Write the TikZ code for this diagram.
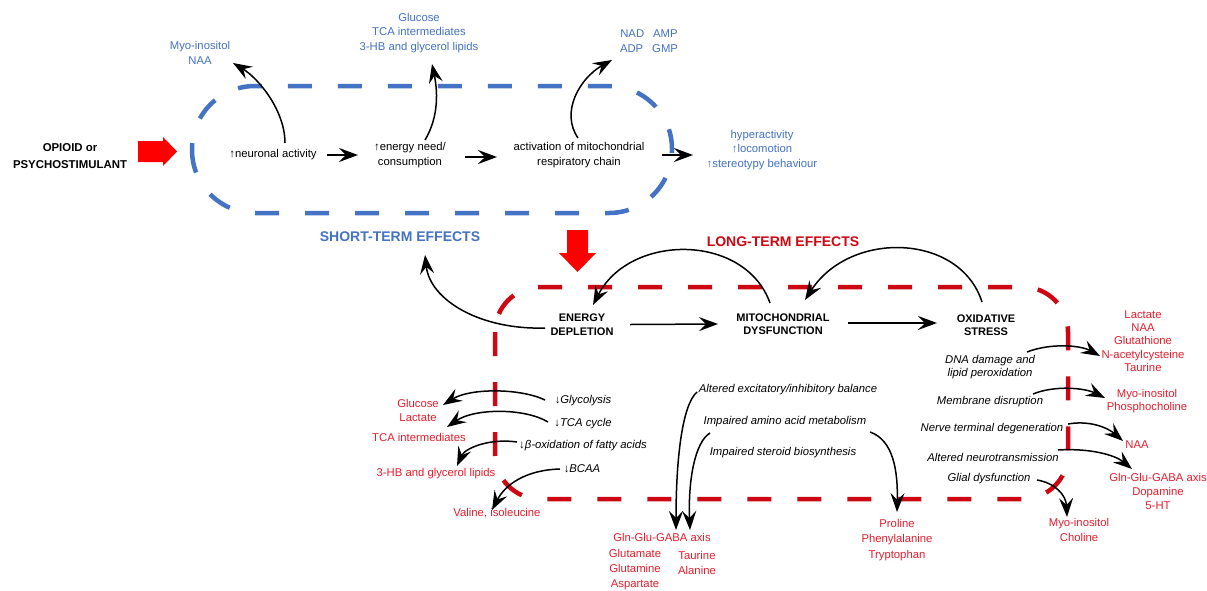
\documentclass[tikz,border=0pt]{standalone}
\usepackage{fontspec}
\setmainfont{Liberation Sans}
\usetikzlibrary{arrows.meta,calc}
\definecolor{sblue}{RGB}{68,114,196}
\definecolor{dred}{RGB}{206,8,18}
\definecolor{tred}{RGB}{228,30,45}
\definecolor{bred}{RGB}{255,0,0}
\tikzset{
 t/.style={inner sep=1pt, align=center, font=\fontsize{11.3}{14.5}\selectfont},
 bl/.style={t, text=sblue},
 rd/.style={t, text=tred},
 it/.style={t, font=\fontsize{11.3}{13}\selectfont\itshape},
 hd/.style={t, font=\fontsize{11}{13.5}\selectfont\bfseries},
 ttl/.style={t, font=\fontsize{14}{16}\selectfont\bfseries},
 arr/.style={-{Stealth[length=19pt,width=14pt,inset=7pt]}, line width=1.5pt},
 dsh/.style={line width=4.5pt, dash pattern=on 24pt off 26pt},
}
\begin{document}
\begin{tikzpicture}[x=1pt,y=-1pt]
\useasboundingbox[fill=white] (0,0) rectangle (1207,590);

% dashed frames
\draw[dsh, sblue, rounded corners=63] (192,86) rectangle (672,213);
\draw[dsh, dred, rounded corners=45] (495,287) rectangle (1068,499);

% block arrows
\fill[bred] (138,141) -- (163,141) -- (163,137) -- (177,151.5) -- (163,166) -- (163,162) -- (138,162) -- cycle;
\fill[bred] (567,230) -- (588,230) -- (588,253) -- (596,253) -- (577.5,272) -- (559,253) -- (567,253) -- cycle;

% short-term nodes
\node[hd, font=\fontsize{11.4}{17}\selectfont\bfseries] (drug) at (70,156) {OPIOID or\\PSYCHOSTIMULANT};
\node[t] (neur) at (273,155) {↑neuronal activity};
\node[t] (en) at (410,155) {↑energy need/\\consumption};
\node[t] (act) at (579,155) {activation of mitochondrial\\respiratory chain};
\node[bl] (myo1) at (200,53) {Myo-inositol\\NAA};
\node[bl] (glu1) at (419,33) {Glucose\\TCA intermediates\\3-HB and glycerol lipids};
\node[bl] (nad) at (649,41) {NAD\hspace{9pt}AMP\\ADP\hspace{9pt}GMP};
\node[bl] (hyp) at (762,150) {hyperactivity\\↑locomotion\\↑stereotypy behaviour};
\node[ttl, text=sblue] (stl) at (400,237) {SHORT-TERM EFFECTS};
\node[ttl, text=dred] (ltl) at (783,242) {LONG-TERM EFFECTS};

% long-term nodes
\node[hd] (ed) at (582,324.5) {ENERGY\\DEPLETION};
\node[hd] (md) at (783,324) {MITOCHONDRIAL\\DYSFUNCTION};
\node[hd] (os) at (986,325) {OXIDATIVE\\STRESS};

\node[it] (gly) at (583,401) {↓Glycolysis};
\node[it] (tca) at (583,424) {↓TCA cycle};
\node[it] (box) at (583,446) {↓β-oxidation of fatty acids};
\node[it] (bcaa) at (582,469) {↓BCAA};
\node[rd, font=\fontsize{11.3}{14}\selectfont] (rglu) at (418,410) {Glucose\\Lactate};
\node[rd] (rtca) at (419,437) {TCA intermediates};
\node[rd] (rhb) at (436,474) {3-HB and glycerol lipids};
\node[rd] (rval) at (497,513) {Valine, isoleucine};

\node[it] (aeib) at (788,390) {Altered excitatory/inhibitory balance};
\node[it] (iaam) at (785,422) {Impaired amino acid metabolism};
\node[it] (isb) at (783,453) {Impaired steroid biosynthesis};
\node[rd] (gga) at (662,537) {Gln-Glu-GABA axis};
\node[rd, font=\fontsize{11.3}{15}\selectfont] (ggl) at (635,570) {Glutamate\\Glutamine\\Aspartate};
\node[rd, font=\fontsize{11.3}{15}\selectfont] (tal) at (697,562.5) {Taurine\\Alanine};
\node[rd, font=\fontsize{11.3}{15.5}\selectfont] (ppt) at (897,540) {Proline\\Phenylalanine\\Tryptophan};

\node[it] (dna) at (990,367.5) {DNA damage and\\lipid peroxidation};
\node[it] (memb) at (990,402) {Membrane disruption};
\node[it] (nerve) at (992,429) {Nerve terminal degeneration};
\node[it] (altn) at (993,457) {Altered neurotransmission};
\node[it] (glial) at (989,479) {Glial dysfunction};
\node[rd, font=\fontsize{11.3}{13.2}\selectfont] (r1) at (1143,341) {Lactate\\NAA\\Glutathione\\N-acetylcysteine\\Taurine};
\node[rd, font=\fontsize{11.3}{13.2}\selectfont] (r2) at (1147,401) {Myo-inositol\\Phosphocholine};
\node[rd] (r3) at (1137,445) {NAA};
\node[rd, font=\fontsize{11.3}{14}\selectfont] (r4) at (1158,491) {Gln-Glu-GABA axis\\Dopamine\\5-HT};
\node[rd, font=\fontsize{11.3}{15}\selectfont] (r5) at (1079,530) {Myo-inositol\\Choline};

% short-term connectors
\draw[arr] ($(neur)+(12,-12)$) .. controls (285,110) and (258,78) .. ($(myo1)+(33,10)$);
\draw[arr] ($(en)+(15,-15)$) .. controls (440,115) and (437,88) .. ($(glu1)+(13,31)$);
\draw[arr] ($(act)+(-1,-17)$) .. controls (560,112) and (580,78) .. ($(nad)+(-37,19)$);
\draw[arr] ($(neur)+(54,0)$) -- ($(en)+(-52,0)$);
\draw[arr] ($(en)+(55,2)$) -- ($(act)+(-82,2)$);
\draw[arr] ($(act)+(83,0)$) -- ($(hyp)+(-69,5)$);

% long-term connectors
\draw[arr] ($(ed)+(48,0)$) -- ($(md)+(-65,0)$);
\draw[arr] ($(md)+(65,-1)$) -- ($(os)+(-49,-2)$);
\draw[arr] ($(md)+(-13,-21)$) .. controls (745,233) and (630,233) .. ($(ed)+(11,-19.5)$);
\draw[arr] ($(os)+(-4,-23)$) .. controls (960,233) and (850,230) .. ($(md)+(22,-24)$);
\draw[arr] ($(ed)+(-37,3.5)$) .. controls (480,330) and (430,300) .. ($(stl)+(25,18)$);

\draw[arr] ($(gly)+(-38,-1)$) .. controls (520,388) and (470,388) .. ($(rglu)+(25,-5)$);
\draw[arr] ($(tca)+(-35,-2)$) .. controls (525,408) and (475,408) .. ($(rtca)+(28,-10)$);
\draw[arr] ($(box)+(-66,-4)$) .. controls (490,438) and (465,448) .. ($(rhb)+(21,-8)$);
\draw[arr] ($(bcaa)+(-22,0)$) .. controls (525,470) and (505,485) .. ($(rval)+(-5,-3)$);

\draw[arr] ($(aeib)+(-91,2)$) .. controls (682,405) and (676,460) .. ($(gga)+(14,-7)$);
\draw[arr] ($(iaam)+(-75,11)$) .. controls (695,442) and (688,480) .. ($(gga)+(28,-7)$);
\draw[arr] ($(iaam)+(85,10)$) .. controls (893,440) and (898,470) .. ($(ppt)+(0,-28)$);

\draw[arr] ($(dna)+(37,-15.5)$) .. controls (1050,343) and (1080,345) .. ($(r1)+(-43,15)$);
\draw[arr] ($(memb)+(43,-8)$) .. controls (1055,385) and (1085,388) .. ($(r2)+(-42,-3)$);
\draw[arr] ($(nerve)+(76,-5)$) .. controls (1090,420) and (1108,428) .. ($(r3)+(-14,-4)$);
\draw[arr] ($(altn)+(65,-7)$) .. controls (1090,448) and (1115,455) .. ($(r4)+(-26,-22)$);
\draw[arr] ($(glial)+(48,1)$) .. controls (1055,483) and (1066,495) .. ($(r5)+(-12,-13)$);
\end{tikzpicture}
\end{document}
